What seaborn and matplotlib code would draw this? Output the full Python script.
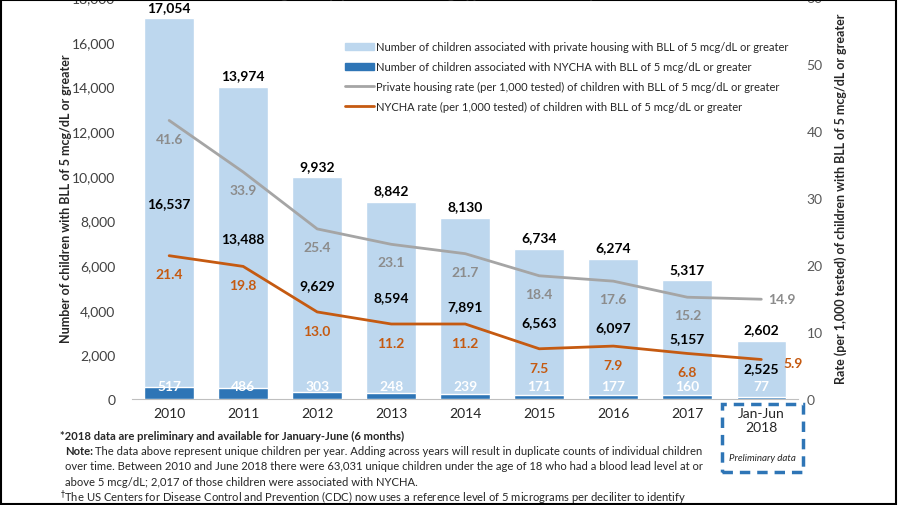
import numpy as np
import pandas as pd
import matplotlib
matplotlib.use("Agg")
import matplotlib.pyplot as plt
from matplotlib.patches import Patch, Rectangle
from matplotlib.lines import Line2D
import seaborn as sns

# ==========================
# DATA
# ==========================

years = ["2010", "2011", "2012", "2013", "2014", "2015", "2016", "2017", "Jan-Jun\n2018"]
total_children = [17054, 13974, 9932, 8842, 8130, 6734, 6274, 5317, 2602]
private_children = [16537, 13488, 9629, 8594, 7891, 6563, 6097, 5157, 2525]
nycha_children = [517, 486, 303, 248, 239, 171, 177, 160, 77]
private_rate = [41.6, 33.9, 25.4, 23.1, 21.7, 18.4, 17.6, 15.2, 14.9]
nycha_rate = [21.4, 19.8, 13.0, 11.2, 11.2, 7.5, 7.9, 6.8, 5.9]

LIGHT = "#BDD7EE"
DARK = "#2E75B6"
GRAY = "#A5A5A5"
GRAY_TXT = "#8C8C8C"
ORANGE = "#C55A11"

df = pd.DataFrame({
    "year": years,
    "total": total_children,
    "private": private_children,
    "nycha": nycha_children,
    "pos": np.arange(len(years)),
    "private_rate": private_rate,
    "nycha_rate": nycha_rate,
})

sns.set_style("white")
plt.rcParams["font.family"] = ["Lato", "DejaVu Sans"]

fig = plt.figure(figsize=(8.99, 5.06), dpi=100)
ax = fig.add_axes([0.147, 0.2095, 0.741, 0.794])

# ==========================
# BARS
# ==========================

sns.barplot(data=df, x="year", y="total", color=LIGHT, width=0.67,
            saturation=1, ax=ax, zorder=2)
sns.barplot(data=df, x="year", y="nycha", color=DARK, width=0.67,
            saturation=1, ax=ax, zorder=3)

ax.set_ylim(0, 18000)
ax.set_xlim(-0.5, len(years) - 0.5)
ax.set_yticks(np.arange(0, 18001, 2000))
ax.set_yticklabels([f"{v:,}" for v in range(0, 18001, 2000)], fontsize=10, color="#404040")
ax.tick_params(axis="x", labelsize=10, colors="#262626", length=0, pad=6)
ax.tick_params(axis="y", length=0, pad=12)
ax.set_xlabel("")
ax.set_ylabel("Number of children with BLL of 5 mcg/dL or greater",
              fontsize=9, fontweight="bold", labelpad=0)
for s in ["top", "right", "left"]:
    ax.spines[s].set_visible(False)
ax.spines["bottom"].set_color("#BFBFBF")

last = len(years) - 1
for i in range(len(years)):
    ax.text(i, total_children[i] + 250, f"{total_children[i]:,}", ha="center", va="bottom",
            fontsize=10, fontweight="bold", color="black", zorder=5)
    mid = nycha_children[i] + private_children[i] / 2
    if i == last:
        mid = 1380
    ax.text(i, mid, f"{private_children[i]:,}", ha="center", va="center",
            fontsize=10, fontweight="bold", color="black", zorder=5)
    ax.text(i, 600, f"{nycha_children[i]:,}", ha="center", va="center",
            fontsize=10, fontweight="bold", color="white", zorder=5)

# ==========================
# RATE LINES
# ==========================

ax2 = ax.twinx()
sns.lineplot(data=df, x="pos", y="private_rate", color=GRAY, linewidth=2, ax=ax2, zorder=4)
sns.lineplot(data=df, x="pos", y="nycha_rate", color=ORANGE, linewidth=2, ax=ax2, zorder=4)
ax2.set_ylim(0, 60)
ax2.set_xlim(-0.5, len(years) - 0.5)
ax2.set_yticks(np.arange(0, 61, 10))
ax2.tick_params(axis="y", labelsize=10, labelcolor="#595959", length=0, pad=6)
ax2.set_ylabel("Rate (per 1,000 tested) of children with BLL of 5 mcg/dL or greater",
               fontsize=9, fontweight="bold", labelpad=8)
ax2.set_xlabel("")
for s in ax2.spines.values():
    s.set_visible(False)

for i in range(len(years)):
    if i == last:
        ax2.text(i + 0.28, private_rate[i], f"{private_rate[i]:.1f}", ha="center", va="center",
                 fontsize=10, fontweight="bold", color=GRAY_TXT)
        ax2.text(i + 0.43, nycha_rate[i] - 0.5, f"{nycha_rate[i]:.1f}", ha="center", va="center",
                 fontsize=10, fontweight="bold", color=ORANGE)
    else:
        ax2.text(i, private_rate[i] - 2.7, f"{private_rate[i]:.1f}", ha="center", va="center",
                 fontsize=10, fontweight="bold", color=GRAY_TXT)
        ax2.text(i, nycha_rate[i] - 2.8, f"{nycha_rate[i]:.1f}", ha="center", va="center",
                 fontsize=10, fontweight="bold", color=ORANGE)

handles = [
    Patch(color=LIGHT, label="Number of children associated with private housing with BLL of 5 mcg/dL or greater"),
    Patch(color=DARK, label="Number of children associated with NYCHA with BLL of 5 mcg/dL or greater"),
    Line2D([], [], color=GRAY, lw=2, label="Private housing rate (per 1,000 tested) of children with BLL of 5 mcg/dL or greater"),
    Line2D([], [], color=ORANGE, lw=2, label="NYCHA rate (per 1,000 tested) of children with BLL of 5 mcg/dL or greater"),
]
ax2.legend(handles=handles, loc="upper right", bbox_to_anchor=(1.0, 0.915), frameon=False,
           fontsize=8, handlelength=2.6, handleheight=0.6, labelspacing=0.8, handletextpad=0.2)

# ==========================
# TITLE, PRELIMINARY BOX, NOTES
# ==========================

fig.text(0.515, 1.012, "5 mcg/dL, by year and housing type, New York City 2010-2018",
         ha="center", va="center", fontsize=11, fontweight="bold", color="#262626")

fig.patches.append(Rectangle((722 / 899, 1 - 473 / 506), 81 / 899, 68 / 506,
                             transform=fig.transFigure, fill=False, edgecolor=DARK,
                             lw=2.5, ls=(0, (3, 2))))
fig.text(762 / 899, 1 - 459 / 506, "Preliminary data", ha="center", va="center",
         fontsize=7, style="italic", color="#262626")

NOTE_FS = 8.1
fig.text(60 / 899, 1 - 436 / 506, "*2018 data are preliminary and available for January-June (6 months)",
         ha="left", va="center", fontsize=NOTE_FS, fontweight="bold")
fig.text(65 / 899, 1 - 452 / 506, "Note:", ha="left", va="center", fontsize=NOTE_FS, fontweight="bold")
fig.text(95 / 899, 1 - 452 / 506,
         "The data above represent unique children per year. Adding across years will result in duplicate counts of individual children",
         ha="left", va="center", fontsize=NOTE_FS)
fig.text(65 / 899, 1 - 467 / 506,
         "over time. Between 2010 and June 2018 there were 63,031 unique children under the age of 18 who had a blood lead level at or",
         ha="left", va="center", fontsize=NOTE_FS)
fig.text(65 / 899, 1 - 482 / 506,
         "above 5 mcg/dL; 2,017 of those children were associated with NYCHA.",
         ha="left", va="center", fontsize=NOTE_FS)
fig.text(60 / 899, 1 - 498 / 506,
         r"$^{\dagger}$The US Centers for Disease Control and Prevention (CDC) now uses a reference level of 5 micrograms per deciliter to identify",
         ha="left", va="center", fontsize=NOTE_FS)

fig.patches.append(Rectangle((0.001, 0.001), 0.996, 0.998, transform=fig.transFigure,
                             fill=False, edgecolor="black", lw=1.5))

plt.savefig("out.png", dpi=100)
plt.close()
